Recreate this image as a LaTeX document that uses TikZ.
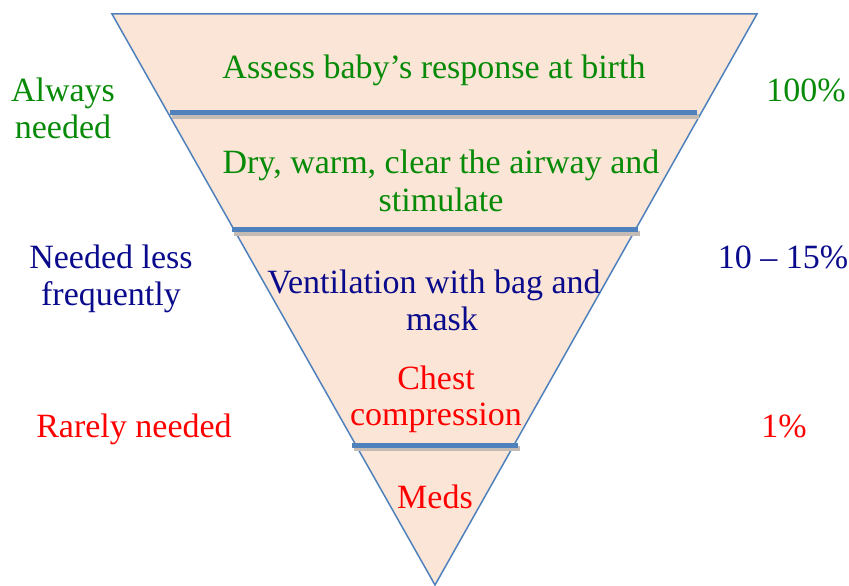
\documentclass[tikz,border=0pt]{standalone}
\usepackage{fontspec}
\setmainfont{Liberation Serif}
\begin{document}
\definecolor{peach}{HTML}{FBE5D6}
\definecolor{edgeblue}{HTML}{4F81BD}
\definecolor{barshadow}{HTML}{C4BBB4}
\definecolor{txtgreen}{HTML}{078A07}
\definecolor{txtnavy}{HTML}{0A0A8C}
\definecolor{txtred}{HTML}{FF0000}
\begin{tikzpicture}[x=1pt,y=-1pt,
  label/.style={inner sep=0pt,anchor=base,font=\fontsize{34}{38}\selectfont},
  stage/.style={label},
  bar/.style={draw=edgeblue,line width=5pt},
  barshade/.style={draw=barshadow,line width=5pt}]
\useasboundingbox (0,0) rectangle (849,586);

% inverted pyramid
\coordinate (tl) at (112,14);
\coordinate (tr) at (757,14);
\coordinate (apex) at (435,585);
\filldraw[fill=peach,draw=edgeblue,line width=1.5pt,line join=miter] (tl) -- (tr) -- (apex) -- cycle;

% level dividers with a soft shadow
\coordinate (d1l) at (170,112.5); \coordinate (d1r) at (697,112.5);
\coordinate (d2l) at (232,229.5); \coordinate (d2r) at (638,229.5);
\coordinate (d3l) at (352,445);   \coordinate (d3r) at (518,445);
\foreach \a/\b in {d1l/d1r,d2l/d2r,d3l/d3r}{
  \draw[barshade] ([shift={(1.5,3.5)}]\a) -- ([shift={(1.5,3.5)}]\b);
  \draw[bar] (\a) -- (\b);
}

% stages inside the pyramid
\node[stage,text=txtgreen] (s1) at (434,78) {Assess baby’s response at birth};
\node[stage,text=txtgreen] (s2a) at (441,173) {Dry, warm, clear the airway and};
\node[stage,text=txtgreen] (s2b) at (441,211) {stimulate};
\node[stage,text=txtnavy] (s3a) at (434,293) {Ventilation with bag and};
\node[stage,text=txtnavy] (s3b) at (442,330) {mask};
\node[stage,text=txtred] (s4a) at (436,389) {Chest};
\node[stage,text=txtred] (s4b) at (436,425) {compression};
\node[stage,text=txtred] (s5) at (435,508) {Meds};

% how often each level is needed
\node[label,text=txtgreen] (n1a) at (63,102) {Always};
\node[label,text=txtgreen] (n1b) at (63,139) {needed};
\node[label,text=txtnavy] (n2a) at (111,268) {Needed less};
\node[label,text=txtnavy] (n2b) at (111,305) {frequently};
\node[label,text=txtred] (n3) at (134,437) {Rarely needed};

% share of newborns
\node[label,text=txtgreen] (p1) at (806,102) {100\%};
\node[label,text=txtnavy] (p2) at (783,268) {10 – 15\%};
\node[label,text=txtred] (p3) at (784,437) {1\%};
\end{tikzpicture}
\end{document}
